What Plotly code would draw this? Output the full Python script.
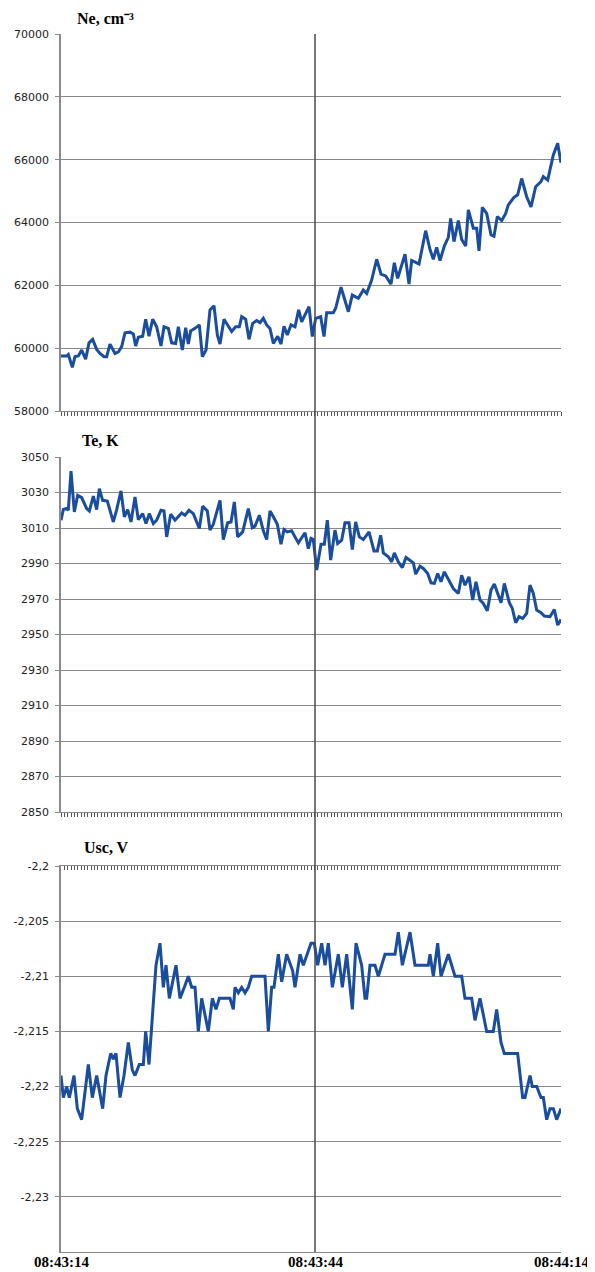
import plotly.graph_objects as go

# ---------------- data (seconds after 08:43:14) ----------------
# the reference category axis places the 08:43:44 label / marker slightly right of centre
X_TICK_SECONDS = [0, 30.48, 60]
X_TICK_LABELS = ["08:43:14", "08:43:44", "08:44:14"]

ne_t = [0.0, 0.68, 0.88, 1.36, 1.68, 2.08, 2.48, 2.96, 3.36, 3.8, 4.28, 4.68, 5.16, 5.48, 5.88,
        6.48, 6.88, 7.28, 7.68, 8.28, 8.68, 8.96, 9.28, 9.8, 10.16, 10.56, 11.0, 11.48, 12.0,
        12.36, 12.88, 13.28, 13.76, 14.08, 14.56, 14.96, 15.28, 15.56, 16.08, 16.6, 16.96,
        17.4, 17.88, 18.36, 18.76, 19.08, 19.56, 20.0, 20.48, 20.96, 21.4, 21.68, 22.16, 22.56,
        23.0, 23.48, 23.88, 24.28, 24.68, 25.08, 25.48, 26.0, 26.4, 26.76, 27.16, 27.6, 28.08,
        28.52, 28.88, 29.76, 30.16, 30.56, 31.16, 31.56, 31.88, 32.68, 32.96, 33.6, 34.48,
        34.96, 35.68, 36.28, 36.68, 37.28, 37.88, 38.4, 38.96, 39.6, 40.0, 40.4, 41.28, 41.76,
        42.08, 42.96, 43.76, 44.28, 44.68, 45.08, 45.48, 46.0, 46.48, 46.76, 47.16, 47.68,
        48.08, 48.56, 48.88, 49.48, 49.88, 50.16, 50.56, 51.08, 51.6, 51.96, 52.36, 52.88,
        53.36, 53.68, 54.36, 54.8, 55.28, 55.88, 56.4, 56.96, 57.6, 57.88, 58.4, 59.08, 59.6,
        60.0]
ne_v = [59750, 59750, 59800, 59390, 59730, 59750, 59940, 59650, 60170, 60280, 59960, 59830,
        59730, 59730, 60130, 59830, 59880, 60050, 60490, 60510, 60450, 60070, 60350, 60380,
        60920, 60380, 60920, 60680, 60070, 60680, 60630, 60170, 60150, 60680, 59940, 60650,
        60130, 60550, 60630, 60740, 59730, 59940, 61220, 61350, 60420, 60130, 60920, 60740,
        60530, 60680, 60680, 61000, 60920, 60280, 60790, 60880, 60810, 60950, 60740, 60630,
        60150, 60380, 60130, 60700, 60420, 60740, 60680, 61220, 60840, 61320, 60370, 60950,
        61000, 60370, 61130, 61130, 61270, 61940, 61160, 61690, 61590, 61850, 61740, 62170,
        62830, 62360, 62300, 62040, 62720, 62220, 62990, 62040, 62790, 62680, 63740, 63140,
        62830, 63210, 62790, 63250, 63530, 64130, 63390, 64060, 63460, 63250, 64400, 63820,
        63820, 63100, 64480, 64290, 63610, 63560, 64190, 64060, 64290, 64560, 64800, 64880,
        65400, 64820, 64500, 65140, 65300, 65460, 65350, 66150, 66520, 65900]

te_t = [0.0, 0.28, 0.68, 0.88, 1.2, 1.6, 2.0, 2.48, 3.08, 3.4, 3.88, 4.28, 4.6, 5.0, 5.56,
        6.28, 6.68, 7.2, 7.6, 8.0, 8.4, 8.88, 9.28, 9.8, 10.2, 10.6, 11.08, 11.48, 12.0, 12.36,
        12.68, 13.16, 13.68, 14.48, 14.88, 15.36, 15.88, 16.6, 17.0, 17.56, 17.88, 18.28,
        19.08, 19.48, 20.0, 20.4, 20.8, 21.2, 21.8, 22.48, 22.96, 23.28, 23.8, 24.28, 24.68,
        25.08, 25.48, 25.96, 26.4, 26.76, 27.16, 27.68, 28.08, 28.48, 29.28, 29.68, 30.0,
        30.28, 30.68, 31.2, 31.6, 31.96, 32.36, 32.88, 33.2, 33.68, 34.08, 34.56, 34.96, 35.36,
        35.8, 36.28, 36.96, 37.56, 37.96, 38.36, 38.68, 39.28, 39.68, 40.0, 40.48, 40.96, 41.4,
        42.28, 42.56, 43.08, 43.48, 44.0, 44.4, 44.8, 45.2, 45.6, 46.0, 46.68, 47.08, 47.68,
        48.08, 48.48, 48.96, 49.4, 49.8, 50.28, 50.68, 51.16, 51.6, 52.0, 52.8, 53.2, 53.8,
        54.16, 54.56, 54.96, 55.4, 55.88, 56.28, 56.68, 57.08, 57.6, 58.0, 58.68, 59.2, 59.6,
        60.0]
te_v = [3014.4, 3020.4, 3021.0, 3020.0, 3042.1, 3019.1, 3028.4, 3027.1, 3020.9, 3019.6,
        3027.9, 3020.4, 3032.2, 3025.6, 3025.2, 3013.4, 3020.4, 3030.9, 3016.3, 3020.4,
        3013.4, 3027.5, 3014.7, 3018.1, 3012.5, 3018.1, 3012.5, 3014.4, 3020.0, 3019.6,
        3005.0, 3017.8, 3014.4, 3018.5, 3017.2, 3020.0, 3018.1, 3009.7, 3022.3, 3019.6,
        3008.8, 3012.1, 3025.6, 3003.5, 3012.9, 3013.4, 3024.7, 3005.0, 3007.8, 3020.9,
        3010.2, 3011.0, 3017.2, 3008.4, 3003.5, 3019.6, 3016.3, 3012.1, 3000.9, 3009.1,
        3007.8, 3008.4, 3005.0, 3001.6, 3007.3, 2998.4, 3004.1, 3003.5, 2986.3, 3000.9,
        3000.9, 3014.4, 2991.9, 3008.8, 3001.3, 3003.1, 3012.9, 3012.9, 2997.9, 3013.4,
        3005.0, 3003.5, 3007.8, 2997.1, 2997.1, 3005.9, 2996.0, 2993.8, 2990.9, 2996.0,
        2990.9, 2987.7, 2993.4, 2990.4, 2984.0, 2988.5, 2987.2, 2984.4, 2979.1, 2978.8,
        2984.4, 2979.7, 2985.3, 2979.1, 2975.9, 2973.1, 2983.4, 2977.8, 2982.5, 2969.4,
        2979.7, 2969.4, 2967.5, 2963.4, 2975.0, 2978.4, 2967.9, 2978.8, 2967.9, 2964.7,
        2956.6, 2960.0, 2959.1, 2961.9, 2977.8, 2973.1, 2963.8, 2962.3, 2960.4, 2960.0,
        2964.1, 2955.3, 2958.5]

usc_t = [0.0, 0.28, 0.68, 1.0, 1.28, 1.56, 1.96, 2.48, 3.28, 3.76, 4.28, 5.0, 5.4, 5.96, 6.28,
         6.6, 7.08, 7.56, 8.08, 8.56, 8.88, 9.4, 9.88, 10.16, 10.56, 11.04, 11.4, 11.88, 12.28,
         12.6, 13.0, 13.8, 14.28, 14.8, 15.28, 15.68, 16.08, 16.48, 16.88, 17.68, 18.16, 18.6,
         19.0, 20.28, 20.68, 20.88, 21.28, 21.68, 22.08, 22.48, 22.88, 24.48, 24.88, 25.28,
         25.56, 26.08, 26.48, 27.08, 27.8, 28.08, 28.68, 29.08, 30.0, 30.4, 30.8, 31.28, 31.68,
         32.08, 32.56, 33.28, 33.76, 34.28, 34.96, 35.4, 36.08, 36.48, 36.68, 37.08, 37.68,
         38.08, 38.88, 40.08, 40.48, 40.96, 41.88, 42.48, 44.08, 44.28, 44.68, 45.2, 45.6,
         46.48, 47.28, 48.08, 48.48, 49.28, 49.68, 50.28, 51.08, 51.88, 52.28, 52.8, 53.2,
         54.8, 55.4, 55.68, 56.28, 56.56, 57.08, 57.6, 57.88, 58.28, 58.68, 59.08, 59.48, 60.0]
usc_v = [-2.219, -2.221, -2.220, -2.221, -2.220, -2.219, -2.222, -2.223, -2.218, -2.221,
         -2.219, -2.222, -2.219, -2.217, -2.2175, -2.217, -2.221, -2.219, -2.216, -2.2185,
         -2.219, -2.218, -2.218, -2.215, -2.218, -2.2125, -2.209, -2.207, -2.211, -2.209,
         -2.212, -2.209, -2.212, -2.211, -2.210, -2.211, -2.211, -2.215, -2.212, -2.215,
         -2.212, -2.213, -2.212, -2.212, -2.213, -2.211, -2.2115, -2.211, -2.2115, -2.211,
         -2.210, -2.210, -2.215, -2.211, -2.211, -2.208, -2.2105, -2.208, -2.2095, -2.211,
         -2.208, -2.209, -2.207, -2.207, -2.209, -2.207, -2.209, -2.207, -2.211, -2.208,
         -2.211, -2.208, -2.213, -2.207, -2.209, -2.212, -2.212, -2.209, -2.209, -2.210,
         -2.208, -2.208, -2.206, -2.209, -2.206, -2.209, -2.209, -2.208, -2.210, -2.207,
         -2.210, -2.208, -2.210, -2.210, -2.212, -2.212, -2.214, -2.212, -2.215, -2.215,
         -2.213, -2.216, -2.217, -2.217, -2.221, -2.221, -2.219, -2.220, -2.220, -2.221,
         -2.221, -2.223, -2.222, -2.222, -2.223, -2.222]

NE_TICKS = [58000, 60000, 62000, 64000, 66000, 68000, 70000]
TE_TICKS = [2850, 2870, 2890, 2910, 2930, 2950, 2970, 2990, 3010, 3030, 3050]
USC_TICKS = [-2.2, -2.205, -2.21, -2.215, -2.22, -2.225, -2.23]
USC_TICK_TEXT = ["-2,2", "-2,205", "-2,21", "-2,215", "-2,22", "-2,225", "-2,23"]
USC_RANGE = [-2.235, -2.2]
PANEL_TITLES = ["Ne, cm⁻³", "Te, K", "Usc, V"]

# ---------------- styling ----------------
PAGE_W, PAGE_H = 595, 1272
OFF = 8                      # default page body margin
W, H = PAGE_W - OFF, PAGE_H - OFF
PLOT_L, PLOT_R = 61, 561     # page pixels of the plot area
L = PLOT_L - OFF
R = W - (PLOT_R - OFF)
LINE_COLOR = "#1a4d9e"
GRID = "#8a8a8a"
TICKC = "#555555"
YFONT = dict(family="DejaVu Sans", size=11, color="#222222")
XFONT = dict(family="Liberation Serif", size=15, color="#000000", weight="bold")
TFONT = dict(family="Liberation Serif", size=16, color="#000000", weight="bold")


def py(page_y):
    return 1 - (page_y - OFF) / H


def pdom(top_px, bot_px):
    return [py(bot_px), py(top_px)]


fig = go.Figure()
line = dict(color=LINE_COLOR, width=3)
fig.add_trace(go.Scatter(x=ne_t, y=ne_v, mode="lines", line=line, xaxis="x", yaxis="y",
                         hoverinfo="skip"))
fig.add_trace(go.Scatter(x=te_t, y=te_v, mode="lines", line=line, xaxis="x2", yaxis="y2",
                         hoverinfo="skip"))
fig.add_trace(go.Scatter(x=usc_t, y=usc_v, mode="lines", line=line, xaxis="x3", yaxis="y3",
                         hoverinfo="skip"))
# carrier for the top tick axis of the third panel
fig.add_trace(go.Scatter(x=[0], y=[-2.3], mode="markers", marker=dict(opacity=0),
                         xaxis="x4", yaxis="y3", hoverinfo="skip"))

minor_out = dict(ticks="outside", ticklen=4, tickcolor=TICKC, dtick=0.4, tick0=0,
                 showgrid=False)
tick_axis = dict(range=[0, 60], showline=True, linecolor=GRID, linewidth=1,
                 ticks="outside", ticklen=4, tickcolor=TICKC, tickmode="linear", tick0=0,
                 dtick=30, showticklabels=False, showgrid=False, zeroline=False,
                 minor=minor_out, fixedrange=True)

yaxis_common = dict(showline=True, linecolor=GRID, linewidth=1.5, ticks="outside",
                    ticklen=4, tickcolor=GRID, showgrid=True, gridcolor=GRID, gridwidth=1,
                    zeroline=False, tickfont=YFONT, tickmode="array", fixedrange=True,
                    ticklabelstandoff=4)

fig.update_layout(
    width=W, height=H,
    margin=dict(l=L, r=R, t=0, b=0, autoexpand=False),
    paper_bgcolor="white", plot_bgcolor="white",
    showlegend=False,
    xaxis=dict(tick_axis, anchor="y", domain=[0, 1]),
    xaxis2=dict(tick_axis, anchor="y2", domain=[0, 1]),
    xaxis3=dict(range=[0, 60], anchor="y3", domain=[0, 1], showline=True, linecolor=GRID,
                linewidth=1, ticks="", showticklabels=False, showgrid=False,
                zeroline=False, fixedrange=True),
    xaxis4=dict(tick_axis, anchor="y3", overlaying="x3", side="top", ticks="inside",
                minor=dict(minor_out, ticks="inside")),
    yaxis=dict(yaxis_common, anchor="x", domain=pdom(34, 411), range=[58000, 70000],
               tickvals=NE_TICKS, ticktext=[str(v) for v in NE_TICKS]),
    yaxis2=dict(yaxis_common, anchor="x2", domain=pdom(457, 812), range=[2850, 3050],
                tickvals=TE_TICKS, ticktext=[str(v) for v in TE_TICKS]),
    yaxis3=dict(yaxis_common, anchor="x3", domain=pdom(866, 1252), range=USC_RANGE,
                tickvals=USC_TICKS, ticktext=USC_TICK_TEXT),
)

# time labels under the last panel, placed on the shared time scale
for tv, tt in zip(X_TICK_SECONDS, X_TICK_LABELS):
    fig.add_annotation(text=tt, xref="x3", yref="paper", x=tv, y=py(1262),
                       xanchor="center", yanchor="middle", showarrow=False, font=XFONT)

# vertical marker at 08:43:44 across all panels
fig.add_shape(type="line", xref="x", yref="paper", x0=X_TICK_SECONDS[1],
              x1=X_TICK_SECONDS[1], y0=py(1252), y1=py(34),
              line=dict(color="#4a4a4a", width=1.5), layer="above")

# panel titles: (left page x, page y, anchor)
title_pos = [(75, 8, "top"), (80, 440, "middle"), (82, 847, "middle")]
for txt, (px, pyy, anc) in zip(PANEL_TITLES, title_pos):
    fig.add_annotation(text=txt, xref="paper", yref="paper",
                       x=(px - PLOT_L) / (PLOT_R - PLOT_L),
                       y=py(pyy), xanchor="left", yanchor=anc, showarrow=False,
                       font=TFONT)

fig.write_html("out.html", config={"displayModeBar": False})
